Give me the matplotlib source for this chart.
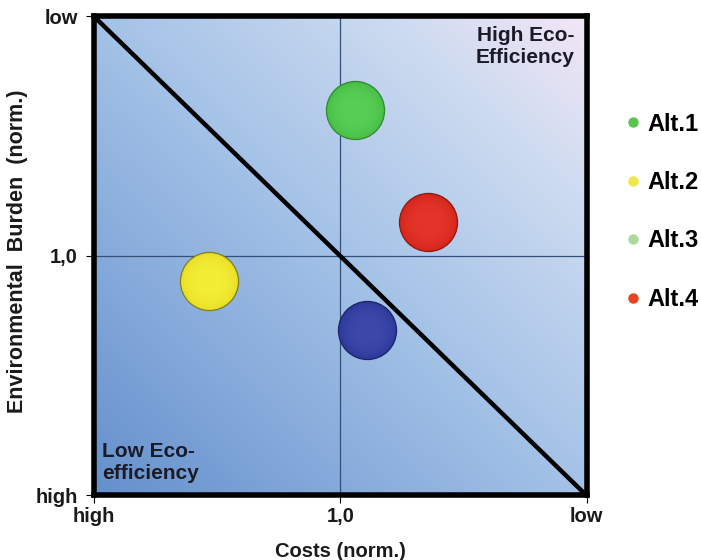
import numpy as np
import matplotlib.pyplot as plt
from matplotlib.colors import LinearSegmentedColormap, to_rgb
from matplotlib.lines import Line2D

plt.rcParams['font.family'] = ['Liberation Sans', 'DejaVu Sans']
plt.rcParams['font.weight'] = 'bold'
plt.rcParams['axes.labelweight'] = 'bold'

# normalized scores, 0 = low, 2 = high (1,0 = average)
costs = [0.940, 0.643, 1.533, 0.891]
burden = [0.390, 0.858, 1.104, 1.309]
bubble_colors = ['#48bf46', '#d5261b', '#e9df27', '#2d3a9c']
edge_colors = ['#2f8a2e', '#8e1a12', '#7f7f1c', '#1d2566']

legend_labels = ['Alt.1', 'Alt.2', 'Alt.3', 'Alt.4']
legend_colors = ['#5cc44e', '#ede84c', '#a9dc99', '#e8431f']

fig = plt.figure(figsize=(7.01, 5.60), dpi=100)
ax = fig.add_axes([0.1341, 0.1152, 0.7026, 0.8554])

# background: diagonal blue -> pale lilac gradient
n = 300
u, v = np.meshgrid(np.linspace(0, 1, n), np.linspace(0, 1, n))
grad = (u + v) / 2
cmap = LinearSegmentedColormap.from_list(
    'bg', [(0, '#6590cd'), (0.5, '#a4c2e7'), (0.8, '#cddbf0'), (1, '#f3e6f5')])
ax.imshow(grad, extent=(0, 1, 0, 1), origin='lower', cmap=cmap,
          transform=ax.transAxes, aspect='auto', zorder=0)

ax.set_xlim(2, 0)
ax.set_ylim(2, 0)

# crosshair at 1,0 and the diagonal
ax.axvline(1, color='#34507a', lw=0.9, zorder=1)
ax.axhline(1, color='#34507a', lw=0.9, zorder=1)
ax.plot([2, 0], [0, 2], color='black', lw=3.2, zorder=3)

# bubbles, soft radial shading built from stacked discs
for x, y, c, ec in zip(costs, burden, bubble_colors, edge_colors):
    ax.scatter(x, y, s=1750, color=c, edgecolors=ec, linewidths=0.9, zorder=4)
    light = tuple(min(1, ch + 0.10) for ch in to_rgb(c))
    for s in np.linspace(1500, 250, 8):
        ax.scatter(x, y, s=s, color=light, alpha=0.12, linewidths=0, zorder=5)

ax.text(0.047, 0.040, 'High Eco-\nEfficiency', ha='right', va='top', fontsize=15,
        color='#1b1b28', linespacing=1.2, zorder=6)
ax.text(1.968, 1.778, 'Low Eco-\nefficiency', ha='left', va='top', fontsize=15,
        color='#1b1b28', linespacing=1.2, zorder=6)

ax.set_xticks([2, 1, 0])
ax.set_xticklabels(['high', '1,0', 'low'])
ax.set_yticks([0, 1, 2])
ax.set_yticklabels(['low', '1,0', 'high'])
ax.tick_params(labelsize=14.5, length=6, width=0.8, labelcolor='#1a1a1a')
ax.tick_params(axis='x', pad=2.5)
ax.tick_params(axis='y', pad=5.5)
ax.set_xlabel('Costs (norm.)', fontsize=14.5, labelpad=11, color='#1a1a1a')
ax.set_ylabel('Environmental  Burden  (norm.)', fontsize=15.5, color='#1a1a1a')
ax.yaxis.set_label_coords(-0.134, 0.509)

for sp in ax.spines.values():
    sp.set_linewidth(4)
    sp.set_zorder(7)

handles = [Line2D([], [], marker='o', ls='', ms=6.5, color=c) for c in legend_colors]
fig.legend(handles, legend_labels, loc='upper left', bbox_to_anchor=(0.859, 0.837),
           frameon=False, labelspacing=1.5, handletextpad=0.2,
           handlelength=0.8, prop={'weight': 'bold', 'size': 17})

fig.savefig('out.png', dpi=100)
